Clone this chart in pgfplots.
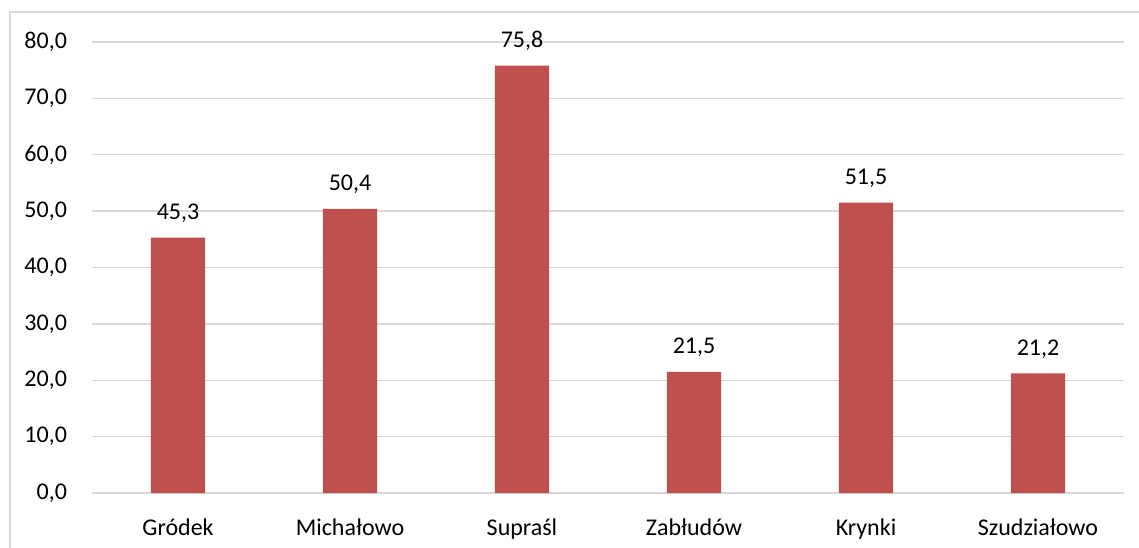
\documentclass[border=0pt]{standalone}
\usepackage{fontspec}
\setmainfont{Carlito}
\usepackage{pgfplots}
\pgfplotsset{compat=1.18}
\definecolor{barred}{RGB}{192,80,77}
\definecolor{gridgray}{RGB}{217,217,217}
\begin{document}
\begin{tikzpicture}
% picture size: 1139 x 547 px at 0.5pt per px
\path[use as bounding box] (-46pt,-27pt) rectangle (523.5pt,246.5pt);
% chart frame (cropped at right and bottom)
\draw[gridgray, line width=0.6pt] (-41pt,-40pt) -- (-41pt,240.5pt) -- (540pt,240.5pt);
\begin{axis}[
    at={(0pt,0pt)}, anchor=south west,
    scale only axis,
    width=516pt, height=225.5pt,
    ybar, bar width=27pt,
    xmin=-0.5, xmax=5.5,
    ymin=0, ymax=80,
    xtick=data,
    xticklabels={Gródek, Michałowo, Supraśl, Zabłudów, Krynki, Szudziałowo},
    ytick={0,10,...,80},
    axis line style={draw=none},
    axis x line*=bottom,
    x axis line style={draw=gridgray, line width=0.7pt},
    tick style={draw=none},
    ymajorgrids,
    grid style={gridgray, line width=0.7pt},
    tick label style={font=\fontsize{12}{14}\selectfont},
    xticklabel style={yshift=-5pt},
    yticklabel style={xshift=-9pt},
    /pgf/number format/.cd, fixed, fixed zerofill, precision=1, use comma, assume math mode=true,
    /pgfplots/.cd,
    nodes near coords,
    nodes near coords style={font=\fontsize{12}{14}\selectfont, yshift=4pt,
        /pgf/number format/.cd, fixed, fixed zerofill, precision=1, use comma, assume math mode=true},
    clip=false,
]
\addplot[fill=barred, draw=none] coordinates {
    (0,45.3) (1,50.4) (2,75.8) (3,21.5) (4,51.5) (5,21.2)
};
\end{axis}
\end{tikzpicture}
\end{document}
